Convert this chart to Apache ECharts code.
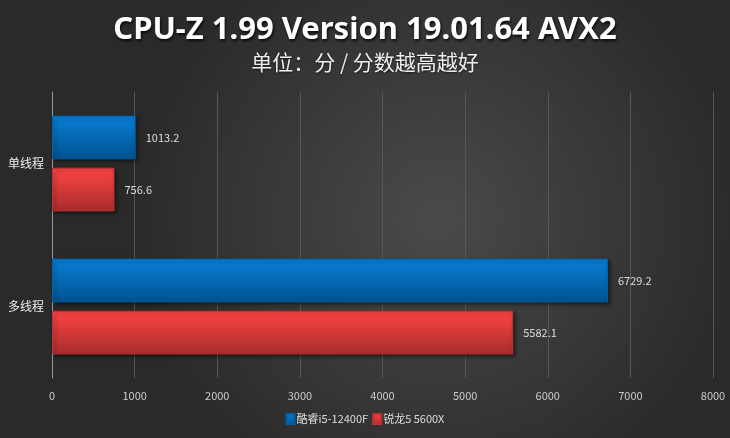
<!DOCTYPE html>
<html><head><meta charset="utf-8">
<script src="https://cdn.jsdelivr.net/npm/echarts@6/dist/echarts.min.js"></script>
<style>html,body{margin:0;padding:0;background:#333;}#c{width:730px;height:438px;}</style>
</head><body><div id="c"></div>
<script>
var categories = ['单线程', '多线程'];
var seriesNames = ['酷睿i5-12400F', '锐龙5 5600X'];
var intelValues = [1013.2, 6729.2];
var amdValues = [756.6, 5582.1];
var xTicks = [0, 1000, 2000, 3000, 4000, 5000, 6000, 7000, 8000];

var chart = echarts.init(document.getElementById('c'));
var font = '"Noto Sans CJK SC", "Noto Sans", sans-serif';
function grad(top, bottom) {
  return new echarts.graphic.LinearGradient(0, 0, 0, 1, [{offset: 0, color: top}, {offset: 1, color: bottom}]);
}
chart.setOption({
  backgroundColor: new echarts.graphic.RadialGradient(0.6, 0.5, 0.7, [
    {offset: 0, color: '#4a4a4a'}, {offset: 1, color: '#2a2a2a'}
  ]),
  title: [{
    text: 'CPU-Z 1.99 Version 19.01.64 AVX2',
    left: 'center', top: 10,
    textStyle: {color: '#ffffff', fontSize: 31, fontWeight: 'bold', fontFamily: '"Noto Sans", sans-serif',
      textShadowColor: 'rgba(0,0,0,0.8)', textShadowBlur: 3, textShadowOffsetX: 1, textShadowOffsetY: 2}
  }, {
    text: '单位：分 / 分数越高越好',
    left: 'center', top: 47,
    textStyle: {color: '#eeeeee', fontSize: 21, fontWeight: 'normal', fontFamily: font,
      textShadowColor: 'rgba(0,0,0,0.6)', textShadowBlur: 2, textShadowOffsetY: 1}
  }],
  legend: {
    bottom: 8, left: 'center', itemWidth: 8, itemHeight: 10, itemGap: 4,
    icon: 'rect',
    textStyle: {color: '#dddddd', fontSize: 11, fontFamily: font, padding: [0, 0, 0, -3]},
    data: seriesNames
  },
  grid: {left: 52, right: 17, top: 92, bottom: 60, containLabel: false},
  xAxis: {
    type: 'value', min: 0, max: 8000, interval: 1000,
    axisLine: {show: false}, axisTick: {show: false},
    splitLine: {lineStyle: {color: '#575757', width: 1}},
    axisLabel: {color: '#cccccc', fontSize: 11, margin: 12, fontFamily: font,
      formatter: function (v) { return xTicks.indexOf(v) >= 0 ? String(v) : ''; }}
  },
  yAxis: {
    type: 'category', data: categories, inverse: true,
    axisLine: {show: true, lineStyle: {color: '#9a9a9a', width: 1}},
    axisTick: {show: false},
    axisLabel: {color: '#eeeeee', fontSize: 12, margin: 8, fontFamily: font}
  },
  series: [{
    name: seriesNames[0], type: 'bar', data: intelValues,
    barCategoryGap: '33%', barGap: '19%',
    itemStyle: {color: grad('#0a7fd9', '#00528f'), borderColor: '#0060a8', borderWidth: 1,
      shadowColor: 'rgba(0,0,0,0.5)', shadowBlur: 4, shadowOffsetX: 2, shadowOffsetY: 2},
    label: {show: true, position: 'right', distance: 10, color: '#dddddd', fontSize: 11, fontFamily: font}
  }, {
    name: seriesNames[1], type: 'bar', data: amdValues,
    itemStyle: {color: grad('#ff4545', '#a82c2c'), borderColor: '#c03030', borderWidth: 1,
      shadowColor: 'rgba(0,0,0,0.5)', shadowBlur: 4, shadowOffsetX: 2, shadowOffsetY: 2},
    label: {show: true, position: 'right', distance: 10, color: '#dddddd', fontSize: 11, fontFamily: font}
  }],
  color: ['#0a7fd9', '#ff4545']
});
</script></body></html>
